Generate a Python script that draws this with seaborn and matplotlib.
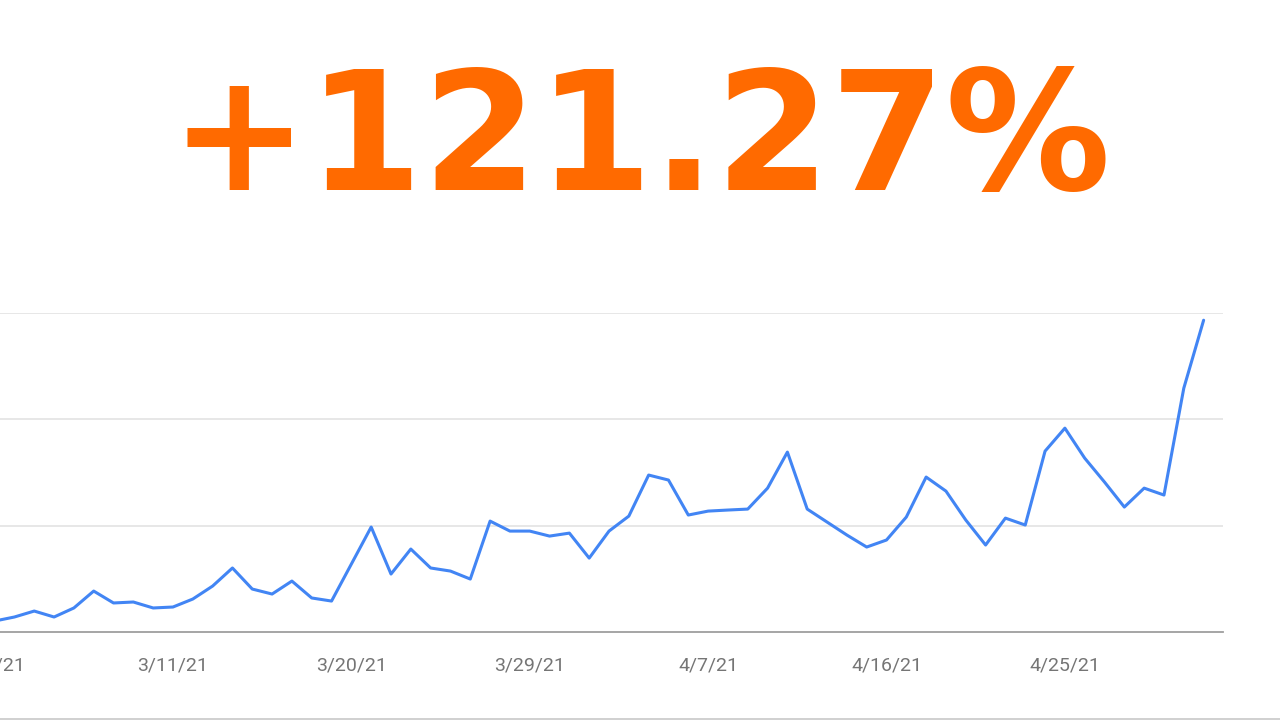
import matplotlib
matplotlib.use("Agg")
import matplotlib.pyplot as plt
import matplotlib.dates as mdates
from matplotlib.lines import Line2D
import seaborn as sns
import pandas as pd
import numpy as np

# ---- data ----
start_date = "2021-03-02"
values = [10.3, 14.1, 19.7, 14.1, 22.6, 38.5, 27.3, 28.2, 22.6, 23.5,
          31.0, 43.2, 60.2, 40.4, 35.7, 47.9, 32.0, 29.1, 63.9, 98.7,
          54.5, 78.0, 60.2, 57.3, 49.8, 104.3, 94.9, 94.9, 90.2, 93.0,
          69.5, 94.9, 109.0, 147.6, 142.9, 110.0, 113.7, 114.7, 115.6, 135.3,
          169.2, 115.6, 103.4, 91.2, 79.9, 86.5, 108.1, 145.7, 132.5, 105.3,
          81.8, 107.1, 100.6, 170.1, 191.7, 163.5, 141.0, 117.5, 135.3, 128.8,
          229.3, 293.2]
tick_dates = ["2021-03-02", "2021-03-11", "2021-03-20", "2021-03-29",
              "2021-04-07", "2021-04-16", "2021-04-25"]
tick_labels = ["3/2/21", "3/11/21", "3/20/21", "3/29/21",
               "4/7/21", "4/16/21", "4/25/21"]
y_grid = [100, 200, 300]
headline = "+121.27%"

dates = pd.date_range(start_date, periods=len(values), freq="D")
df = pd.DataFrame({"date": dates, "value": values})

sns.set_theme(style="white")
plt.rcParams["font.family"] = ["Roboto", "DejaVu Sans"]

fig = plt.figure(figsize=(12.8, 7.2), dpi=100)
fig.patch.set_facecolor("white")

W, H = 1280, 720
px_per_day = 19.82
x0_day0 = -5.4  # pixel of first date (chart is cropped on the left)
left_px, right_px = -40, 1223
bottom_px, top_px = 632, 313
ax = fig.add_axes([left_px / W, (H - bottom_px) / H,
                   (right_px - left_px) / W, (bottom_px - top_px) / H])

sns.lineplot(data=df, x="date", y="value", ax=ax, color="#4285F4",
             linewidth=2.2)

ax.set_xticks([mdates.date2num(pd.Timestamp(d)) for d in tick_dates])
ax.set_xticklabels(tick_labels)
ax.set_yticks(y_grid)
ax.set_yticklabels([])

d0 = mdates.date2num(dates[0])
ax.set_xlim(d0 + (left_px - x0_day0) / px_per_day,
            d0 + (right_px - x0_day0) / px_per_day)
ax.set_ylim(0, 300)

ax.yaxis.grid(True, color="#e3e3e3", linewidth=1.2)
ax.xaxis.grid(False)
ax.tick_params(axis="x", length=0, pad=18, labelsize=14, labelcolor="#757575")
ax.tick_params(axis="y", length=0)
ax.set_xlabel("")
ax.set_ylabel("")
for s in ["left", "right", "top"]:
    ax.spines[s].set_visible(False)
ax.spines["bottom"].set_color("#9e9e9e")
ax.spines["bottom"].set_linewidth(1.3)

# faint bottom frame line
fig.add_artist(Line2D([0, 1], [1.5 / H, 1.5 / H], color="#c8c8c8", linewidth=1.2,
                      transform=fig.transFigure))

fig.text(0.5, (H - 190) / H, headline, ha="center", va="baseline",
         fontsize=119, fontweight="bold", color="#FF6A00",
         family=["DejaVu Sans"])

fig.savefig("out.png", dpi=100, facecolor="white")
